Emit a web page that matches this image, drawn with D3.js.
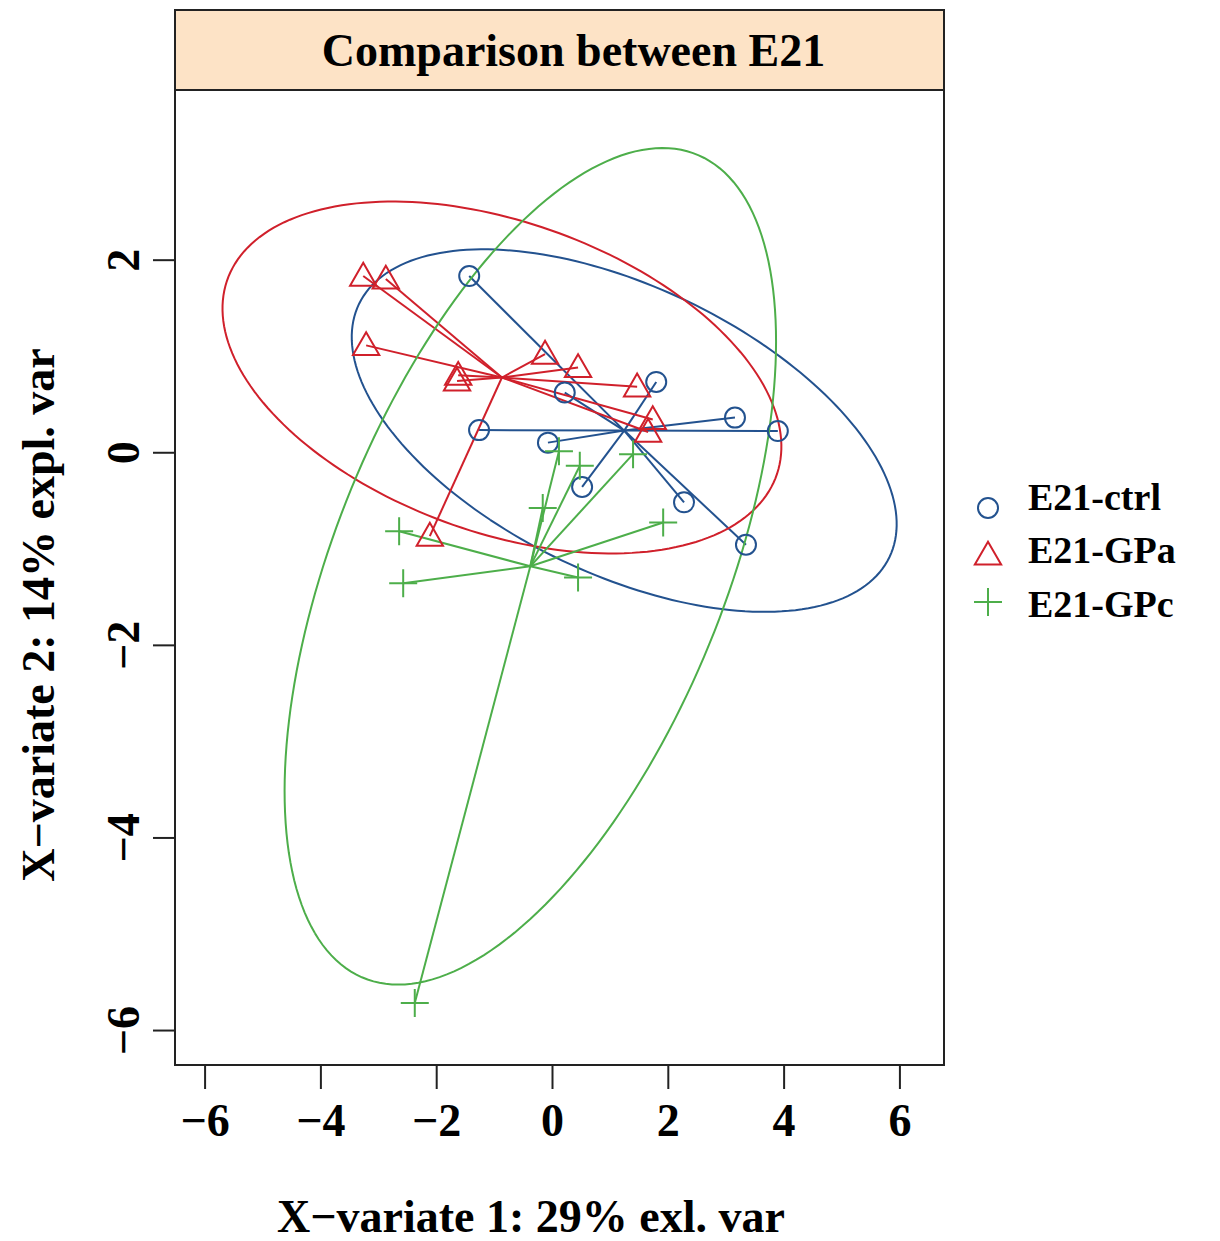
<!DOCTYPE html>
<html>
<head>
<meta charset="utf-8">
<script src="https://cdn.jsdelivr.net/npm/d3@7"></script>
<style>
  body { margin: 0; background: #fff; }
  text { font-family: "Liberation Serif", "Times New Roman", serif; font-weight: bold; }
</style>
</head>
<body>
<div id="chart"></div>
<script>
// group names and colours
let groups = ["E21-ctrl", "E21-GPa", "E21-GPc"]
let groupColors = ["#23528f", "#d0202b", "#4dae4a"]

// sample scores (X-variate 1, X-variate 2)
let ctrlX = [-1.43, 0.22, 1.80, 3.16, 3.90, -1.26, -0.07, 0.52, 2.28, 3.35]
let ctrlY = [1.83, 0.62, 0.73, 0.36, 0.22, 0.23, 0.10, -0.36, -0.52, -0.96]
let gpaX = [-3.26, -2.87, -3.21, -1.62, -1.64, -0.12, 0.45, 1.47, 1.74, 1.66, -2.11]
let gpaY = [1.83, 1.80, 1.11, 0.80, 0.74, 1.02, 0.88, 0.68, 0.34, 0.21, -0.87]
let gpcX = [-2.64, -2.57, -0.16, 0.12, 0.48, 1.40, 1.92, 0.45, -2.37]
let gpcY = [-0.82, -1.36, -0.58, 0.01, -0.14, -0.02, -0.73, -1.30, -5.72]

let xTicks = [-6, -4, -2, 0, 2, 4, 6]
let yTicks = [-6, -4, -2, 0, 2]

let chartTitle = "Comparison between E21"
let xTitle = "X\u2212variate 1: 29% exl. var"
let yTitle = "X\u2212variate 2: 14% expl. var"

// 95% ellipse, like ellipse::ellipse(level = 0.95)
let ellipseT = Math.sqrt(5.991465)

function mean(a) { return d3.mean(a) }

function ellipsePoints(xs, ys) {
    let mx = mean(xs), my = mean(ys)
    let n = xs.length
    let vx = d3.sum(xs, d => (d - mx) * (d - mx)) / (n - 1)
    let vy = d3.sum(ys, d => (d - my) * (d - my)) / (n - 1)
    let cxy = d3.sum(xs, (d, i) => (d - mx) * (ys[i] - my)) / (n - 1)
    let sx = Math.sqrt(vx), sy = Math.sqrt(vy)
    let r = cxy / (sx * sy)
    let dd = Math.acos(r)
    let pts = []
    for (let k = 0; k <= 200; k++) {
        let a = -Math.PI + 2 * Math.PI * k / 200
        pts.push([mx + ellipseT * sx * Math.cos(a + dd / 2), my + ellipseT * sy * Math.cos(a - dd / 2)])
    }
    return pts
}

let groupData = [
    {name: groups[0], color: groupColors[0], xs: ctrlX, ys: ctrlY, shape: "circle"},
    {name: groups[1], color: groupColors[1], xs: gpaX, ys: gpaY, shape: "triangle"},
    {name: groups[2], color: groupColors[2], xs: gpcX, ys: gpcY, shape: "plus"}
]

let width = 1220, height = 1241
let box = {left: 175, right: 944, top: 90, bottom: 1065, stripTop: 10}

let svg = d3.select("#chart").append("svg")
    .attr("width", width)
    .attr("height", height)

let x = d3.scaleLinear()
    .domain([-6.511, 6.770])
    .range([box.left, box.right])
let y = d3.scaleLinear()
    .domain([-6.363, 3.762])
    .range([box.bottom, box.top])

// clip to plot panel
svg.append("clipPath").attr("id", "panel")
    .append("rect")
    .attr("x", box.left).attr("y", box.top)
    .attr("width", box.right - box.left).attr("height", box.bottom - box.top)

let plot = svg.append("g").attr("clip-path", "url(#panel)")

let line = d3.line().x(d => x(d[0])).y(d => y(d[1]))

function drawSymbol(g, shape, px, py, color) {
    if (shape === "circle") {
        g.append("circle").attr("cx", px).attr("cy", py).attr("r", 10)
            .attr("fill", "none").attr("stroke", color).attr("stroke-width", 2)
    } else if (shape === "triangle") {
        g.append("path")
            .attr("d", d3.symbol().type(d3.symbolTriangle).size(300)())
            .attr("transform", `translate(${px},${py + 2})`)
            .attr("fill", "none").attr("stroke", color).attr("stroke-width", 2)
    } else {
        g.append("path")
            .attr("d", `M${px - 14},${py}H${px + 14}M${px},${py - 14}V${py + 14}`)
            .attr("fill", "none").attr("stroke", color).attr("stroke-width", 2)
    }
}

groupData.forEach(function(gd) {
    let g = plot.append("g")
    // ellipse
    g.append("path")
        .attr("d", line(ellipsePoints(gd.xs, gd.ys)))
        .attr("fill", "none")
        .attr("stroke", gd.color)
        .attr("stroke-width", 2)
    // star lines from centroid
    let cx = mean(gd.xs), cy = mean(gd.ys)
    gd.xs.forEach(function(v, i) {
        g.append("line")
            .attr("x1", x(cx)).attr("y1", y(cy))
            .attr("x2", x(v)).attr("y2", y(gd.ys[i]))
            .attr("stroke", gd.color)
            .attr("stroke-width", 2)
    })
})

groupData.forEach(function(gd) {
    let g = plot.append("g")
    gd.xs.forEach(function(v, i) {
        drawSymbol(g, gd.shape, x(v), y(gd.ys[i]), gd.color)
    })
})

// title strip
svg.append("rect")
    .attr("x", box.left).attr("y", box.stripTop)
    .attr("width", box.right - box.left).attr("height", box.top - box.stripTop)
    .attr("fill", "#fde3c6").attr("stroke", "#222").attr("stroke-width", 2)
svg.append("text")
    .attr("x", (box.left + box.right) / 2 + 14).attr("y", 66)
    .attr("text-anchor", "middle")
    .attr("font-size", 46)
    .text(chartTitle)

// panel border
svg.append("rect")
    .attr("x", box.left).attr("y", box.top)
    .attr("width", box.right - box.left).attr("height", box.bottom - box.top)
    .attr("fill", "none").attr("stroke", "#222").attr("stroke-width", 2)

// x axis
let xAxis = d3.axisBottom(x).tickValues(xTicks).tickSize(24).tickPadding(14)
    .tickFormat(d => d < 0 ? "\u2212" + Math.abs(d) : d)
svg.append("g")
    .attr("transform", `translate(0,${box.bottom})`)
    .call(xAxis)
    .call(g => g.select(".domain").remove())
    .call(g => g.selectAll("line").attr("stroke", "#222").attr("stroke-width", 2))
    .call(g => g.selectAll("text").attr("font-size", 46).attr("fill", "#000")
        .attr("font-family", "Liberation Serif").attr("font-weight", "bold"))

// y axis, labels parallel to the axis
let yAxis = d3.axisLeft(y).tickValues(yTicks).tickSize(22).tickPadding(0)
    .tickFormat(d => d < 0 ? "\u2212" + Math.abs(d) : d)
svg.append("g")
    .attr("transform", `translate(${box.left},0)`)
    .call(yAxis)
    .call(g => g.select(".domain").remove())
    .call(g => g.selectAll("line").attr("stroke", "#222").attr("stroke-width", 2))
    .call(g => g.selectAll("text")
        .attr("font-size", 46).attr("fill", "#000")
        .attr("font-family", "Liberation Serif").attr("font-weight", "bold")
        .attr("x", null).attr("dy", null)
        .attr("text-anchor", "middle")
        .attr("transform", "translate(-36,0) rotate(-90)"))

// axis titles
svg.append("text")
    .attr("x", 531).attr("y", 1232)
    .attr("text-anchor", "middle")
    .attr("font-size", 46)
    .text(xTitle)
svg.append("text")
    .attr("transform", "translate(54,615) rotate(-90)")
    .attr("text-anchor", "middle")
    .attr("font-size", 46)
    .text(yTitle)

// legend
let legend = svg.append("g")
groupData.forEach(function(gd, i) {
    let ly = 508 + i * 47
    drawSymbol(legend, gd.shape, 988, ly, gd.color)
    legend.append("text")
        .attr("x", 1028).attr("y", [510, 563, 617][i])
        .attr("font-size", 38)
        .text(gd.name)
})
</script>
</body>
</html>
